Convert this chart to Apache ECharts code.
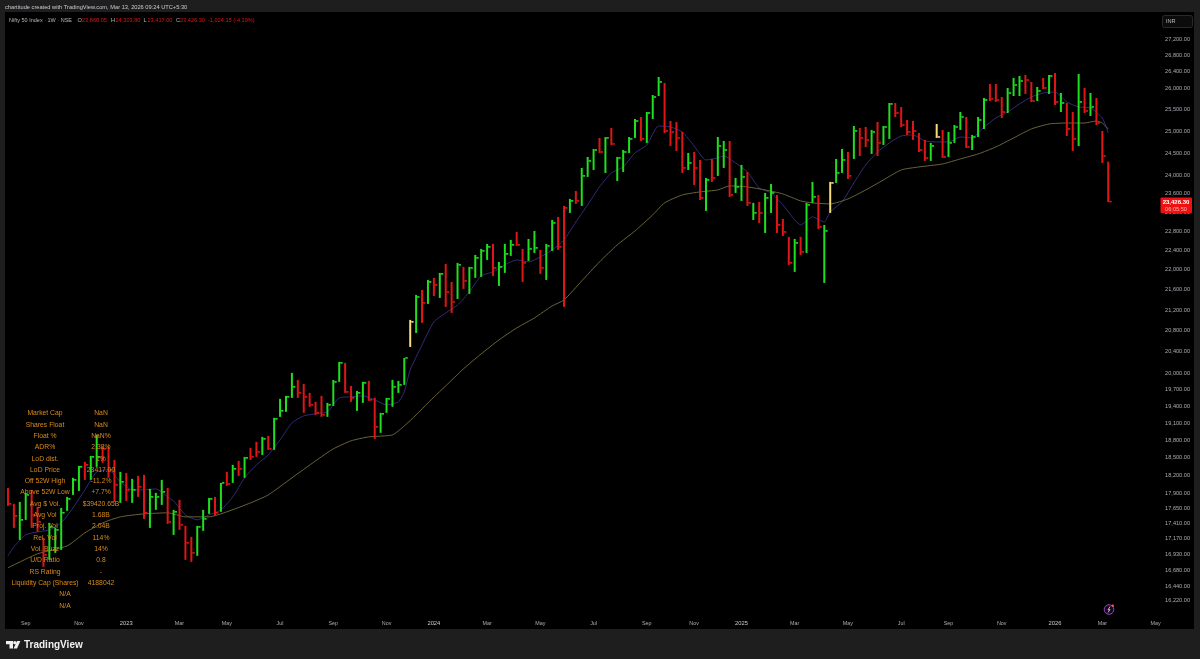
<!DOCTYPE html>
<html><head><meta charset="utf-8">
<style>html,body{margin:0;padding:0;background:#1e1e1e}#c{width:1200px;height:659px}</style>
<script src="https://cdn.jsdelivr.net/npm/echarts@6/dist/echarts.min.js"></script>
</head><body><div id="c"></div>
<script>
const highs=[17996,17733,17765,17913,17963,17684,17186,17425,17345,17668,17847,18163,18365,18432,18534,18896,18688,18688,18466,18263,18246,18146,18196,18213,17979,17913,18129,17996,17635,17798,17377,17202,17377,17635,17831,17847,18079,18263,18382,18449,18517,18671,18776,18862,18879,19195,19534,19588,20007,19878,19805,19642,19480,19588,19462,19878,20211,20192,19769,19678,19842,19860,19552,19284,19552,19878,19860,20285,21008,21497,21596,21796,21837,21938,22120,21756,22141,22059,22059,22304,22428,22532,22532,22161,22532,22614,22781,22428,22635,22802,22407,22532,23034,23099,23334,23485,23658,24165,24411,24591,24842,24864,25071,24411,24568,24864,25279,25326,25443,25845,26277,26132,25233,25210,24979,24501,24523,24343,23943,24366,24864,24773,24773,23943,24232,24076,23399,23420,23615,23811,23571,23055,22677,22635,22677,23399,23855,23571,22929,23855,24366,24591,24523,25117,25071,25094,25025,25210,25117,25655,25655,25561,25256,25233,24956,24796,24728,25163,25025,24979,25140,25443,25326,24910,25326,25774,26108,26108,25797,26012,26252,26301,26325,26156,26036,26252,26325,26373,25892,25655,25443,26349,26012,25892,25774,25002,24303.8];
const lows=[17700,17345,17154,17473,17345,17281,16733,16841,16950,16997,17619,17880,17946,18129,18129,18348,18416,18163,17765,17749,17782,17749,17847,17489,17345,17635,17716,17409,17233,17313,16841,16810,16904,17297,17570,17538,17603,18029,18079,18196,18163,18466,18517,18551,18637,18637,19213,19302,19552,19552,19284,19391,19248,19213,19213,19408,19842,19642,19480,19319,19462,19498,18827,18932,19284,19391,19642,19787,20491,20757,20950,21319,21477,21437,21261,21143,21418,21616,21517,21837,21857,22202,21877,21676,21938,22284,22490,21756,22181,22345,21918,21796,22386,22407,21261,23184,23377,23334,23965,24120,24501,24054,24682,23877,24076,24501,24842,24773,24728,25279,25821,24956,24659,24546,24054,24120,23789,23463,23227,23855,23988,24165,23528,23615,23442,23334,23034,22971,22760,23184,22760,22698,22100,21958,22304,22345,23399,22844,21736,23184,23833,24054,23921,24366,24433,24636,24478,24433,24682,24819,25326,25094,24910,24796,24523,24321,24321,24842,24388,24411,24728,25025,24614,24568,24864,25048,25702,25679,25303,25420,25821,25821,25869,25679,25702,25988,25869,25608,25443,24887,24546,24659,25420,25350,25140,24276,23417];
const closes=[17733,17538,17473,17880,17554,17441,16919,17361,17313,17587,17814,18129,18348,18382,18517,18517,18654,18297,18046,18096,17963,17963,18013,17587,17847,17847,17930,17441,17603,17393,17107,16950,17361,17489,17814,17587,18079,18062,18314,18314,18500,18517,18603,18827,18654,19177,19319,19570,19751,19642,19570,19426,19284,19248,19426,19842,20192,19660,19552,19642,19824,19516,19036,19266,19534,19751,19787,20285,20970,21457,21339,21756,21696,21918,21556,21359,22100,21776,22039,22243,22386,22470,22039,22059,22325,22511,22511,22141,22428,22449,22039,22490,22971,22470,23291,23442,23442,23988,24321,24568,24523,24842,24705,24388,24523,24819,25233,24819,25420,25797,26156,25002,24979,24842,24165,24276,24165,23506,23899,23943,24659,24568,23571,23746,23965,23399,23184,23184,23506,23615,22929,22781,22141,22552,22366,23356,23528,22887,22802,23833,24054,24343,23988,25002,24842,24796,24979,24728,25094,25632,25420,25140,24979,25002,24568,24388,24659,24864,24411,24728,25094,25326,24636,24864,25256,25726,25750,25726,25443,25892,26084,26180,26204,25702,25940,26012,26301,25679,25655,25048,24819,25679,25467,25561,25186,24433,23426.3];
const colorCodes=['rrggrrrggg','gggrggrrrg','rgrrgggrgr','rrgggrgrgr','grrgrggggr','rrrrgggrrg','grrgggggyg','rgrgrrgrgg','ggrgggrrgg','rggrrgrggg','rgrggggrgg','grrrrgrrgr','ggrggrgrgg','rrrgrggrgy','ggrgrrgrgg','rrrrrrgyrg','ggrgggrrrg','ggrrgrgrgr','rgrgrrr'].join('');
const gridWeeks=201;
const tickIdx=[3,12,20,29,37,46,55,64,72,81,90,99,108,116,124,133,142,151,159,168,177,185,194];
const tickText=['Sep','Nov','2023','Mar','May','Jul','Sep','Nov','2024','Mar','May','Jul','Sep','Nov','2025','Mar','May','Jul','Sep','Nov','2026','Mar','May'];
const priceTicks=[27200,26800,26400,26000,25500,25000,24500,24000,23600,23200,22800,22400,22000,21600,21200,20800,20400,20000,19700,19400,19100,18800,18500,18200,17900,17650,17410,17170,16930,16680,16440,16220];
const blueAt=[0,1,3,5,7,9,11,13,15,17,19,21,23,25,27,28,30,32,34,36,38,40,42,44,46,48,50,52,54,56,58,60,62,64,66,67,68,70,72,74,76,78,80,82,84,86,88,90,92,94,96,98,100,102,104,106,108,110,112,114,116,118,120,121,123,125,127,129,131,133,134,136,138,139,141,143,145,147,149,151,153,155,157,159,161,163,165,167,169,171,173,175,177,179,181,183,185,186];
const blueVal=[16904,17044,17233,17281,17313,17425,17668,17963,18263,18297,18096,17963,17963,17979,17847,17782,17554,17473,17554,17635,17847,18163,18382,18551,18810,19106,19230,19266,19302,19552,19570,19588,19516,19426,19480,19660,20062,20529,20970,21143,21300,21556,21877,21958,22100,22202,22161,22263,22407,22614,22992,23356,23746,24054,24187,24501,24682,25117,25094,24979,24659,24343,24388,24433,24276,24076,23724,23615,23356,23034,22929,23099,22992,23206,23420,23833,24232,24523,24728,24887,24910,24773,24750,24750,24864,24842,25094,25303,25443,25632,25797,25892,25916,25679,25561,25537,25303,24956];
const tanAt=[0,5,10,13,16,19,23,27,30,34,37,41,44,48,52,55,58,61,65,67,69,71,74,77,80,83,86,89,92,94,97,100,103,106,109,111,114,117,120,122,125,128,131,134,136,139,142,145,148,151,154,158,161,164,167,170,173,176,179,182,184,185,186];
const tanVal=[16718,16935,17060,17265,17425,17522,17570,17587,17522,17522,17603,17749,17880,18163,18449,18654,18793,18862,18896,19053,19248,19462,19769,20081,20360,20624,20853,21046,21280,21398,21776,22161,22511,22802,23142,23399,23571,23637,23680,23768,23746,23680,23593,23442,23399,23377,23485,23680,23899,24120,24187,24254,24366,24478,24636,24842,25048,25163,25186,25186,25233,25186,25048];
const statLabels=['Market Cap','Shares Float','Float %','ADR%','LoD dist.','LoD Price','Off 52W High','Above 52W Low','Avg $ Vol.','Avg Vol','Proj. Vol','Rel. Vol','Vol. Buzz','U/D Ratio','RS Rating','Liquidity Cap (Shares)'];
const statValues=['NaN','NaN','NaN%','2.38%','1%','23417.00','-11.2%','+7.7%','$39420.65B','1.68B','2.04B','114%','14%','0.8','-','4188042'];
const ohlcText=[['O',77.5],['23,868.05',82],['H',111],['24,303.80',115.5],['L',143.5],['23,417.00',147.5],['C',176],['23,426.30',180],['-1,024.15 (-4.19%)',208]];

const palette={g:'#1fe01f',r:'#e01616',y:'#f6dc78'};
const categories=Array.from({length:gridWeeks},(_,i)=>{const d=new Date(Date.UTC(2022,7,15+7*i));return d.toISOString().slice(0,10);});
const bars=highs.map((h,i)=>[i,h,lows[i],closes[i],colorCodes[i]]);
const FONT='"Liberation Sans",Arial,sans-serif';
const g=[];
const txt=(x,y,t,fill,size,align,weight)=>g.push({type:'text',z:100,x:x,y:y,style:{text:t,fill:fill,font:(weight||'normal')+' '+size+'px '+FONT,textAlign:align||'left',textVerticalAlign:'middle'}});
txt(5,7,'chartitude created with TradingView.com, Mar 13, 2026 09:24 UTC+5:30','#c8cbd2',5.7);
txt(9,20,'Nifty 50 Index · 1W · NSE','#b5b8c0',5.5);
ohlcText.forEach(([t,x])=>txt(x,20,t,(t.length===1)?'#b5b8c0':'#d81818',5.6));
statLabels.forEach((t,i)=>{txt(45,413.3+i*11.33,t,'#d98a1c',6.8,'center');txt(101,413.3+i*11.33,statValues[i],'#d98a1c',6.8,'center');});
txt(65,594.6,'N/A','#d98a1c',6.8,'center');txt(65,606,'N/A','#d98a1c',6.8,'center');
g.push({type:'rect',z:100,shape:{x:1162.5,y:15.5,width:30,height:12,r:2},style:{fill:'#0c0c0c',stroke:'#2a2a2a',lineWidth:1}});
txt(1166,21.5,'INR','#b9bcc4',5.6);
g.push({type:'rect',z:100,shape:{x:1160.5,y:197.5,width:31.5,height:15.5,r:1},style:{fill:'#f01010'}});
txt(1176,202,'23,426.30','#ffffff',6,'center','bold');
txt(1176,209,'06:05:50','#ffb0b0',5.6,'center');
g.push({type:'circle',z:100,shape:{cx:1109,cy:609.5,r:4.8},style:{fill:'#140a1c',stroke:'#9b3fc0',lineWidth:1}});
g.push({type:'polyline',z:101,shape:{points:[[1110,606.5],[1108,610],[1110,609.5],[1108,612.5]]},style:{stroke:'#e5d0f0',fill:null,lineWidth:.8}});
g.push({type:'circle',z:102,shape:{cx:1112.8,cy:605.7,r:1.2},style:{fill:'#ff5a5a'}});
g.push({type:'polygon',z:100,shape:{points:[[6,641],[13,641],[13,648.5],[9.5,648.5],[9.5,644.3],[6,644.3]]},style:{fill:'#f0f0f0'}});
g.push({type:'circle',z:100,shape:{cx:14.8,cy:642.7,r:1.6},style:{fill:'#f0f0f0'}});
g.push({type:'polygon',z:100,shape:{points:[[17,641],[20.4,641],[17,648.5],[13.6,648.5]]},style:{fill:'#f0f0f0'}});
txt(24,644.8,'TradingView','#f0f0f0',10,'left','600');

const chart=echarts.init(document.getElementById('c'),null,{renderer:'canvas'});
chart.setOption({
  animation:false,backgroundColor:'#1e1e1e',
  grid:{left:5,top:12,width:1189,height:617,show:true,backgroundColor:'#000',borderWidth:0},
  xAxis:{type:'category',data:categories,boundaryGap:true,
    axisLine:{show:false},axisTick:{show:false},splitLine:{show:false},
    axisLabel:{inside:true,margin:2.5,color:'#a9acb4',fontSize:5.4,fontFamily:FONT,
      interval:(i)=>tickIdx.includes(i),
      formatter:(v,i)=>{const t=tickText[tickIdx.indexOf(i)]||'';return /^\d/.test(t)?'{y|'+t+'}':t;},
      rich:{y:{color:'#c8cbd2',fontSize:5.8,fontFamily:FONT}}}},
  yAxis:{type:'log',logBase:10,min:15802,max:27898,position:'right',
    axisLine:{show:false},axisTick:{show:false},splitLine:{show:false},
    axisLabel:{inside:true,margin:4,color:'#a9acb4',fontSize:5.6,fontFamily:FONT,showMinLabel:true,showMaxLabel:true,
      customValues:priceTicks,
      formatter:(v)=>Number(v).toLocaleString('en-US',{minimumFractionDigits:2,maximumFractionDigits:2})}},
  series:[
    {type:'line',name:'MA short',data:blueAt.map((x,i)=>[x,blueVal[i]]),symbol:'none',smooth:.2,z:2,lineStyle:{color:'#302c78',width:1},silent:true},
    {type:'line',name:'MA long',data:tanAt.map((x,i)=>[x,tanVal[i]]),symbol:'none',smooth:.2,z:2,lineStyle:{color:'#6a6438',width:1},silent:true},
    {type:'custom',name:'Nifty',z:3,data:bars,encode:{x:0,y:[1,2,3]},silent:true,
      renderItem:(p,api)=>{
        const i=api.value(0),fill=palette[bars[p.dataIndex][4]];
        const t=api.coord([i,api.value(1)]),b=api.coord([i,api.value(2)]),c=api.coord([i,api.value(3)]);
        return {type:'group',children:[
          {type:'rect',shape:{x:t[0]-1,y:t[1],width:2,height:b[1]-t[1]},style:{fill}},
          {type:'rect',shape:{x:t[0]+1,y:c[1]-.8,width:2.4,height:1.6},style:{fill}}
        ]};
      }}
  ],
  graphic:{elements:g}
});
</script></body></html>
